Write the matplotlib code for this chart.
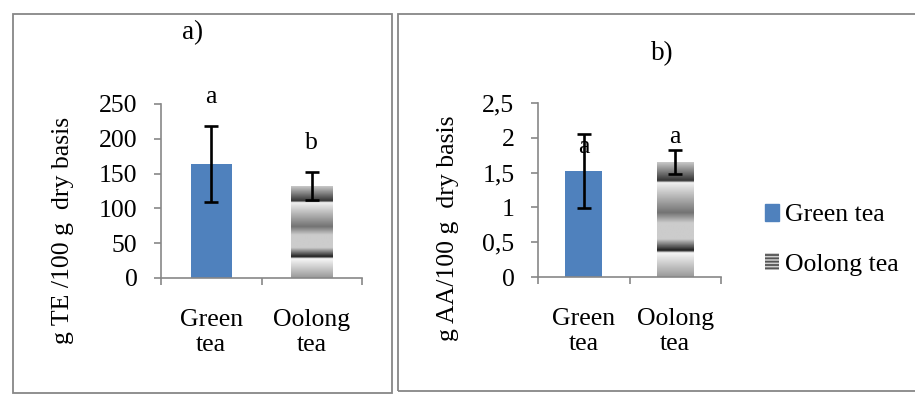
import matplotlib
matplotlib.use("Agg")
import matplotlib.pyplot as plt
import numpy as np
from matplotlib.colors import LinearSegmentedColormap
from matplotlib.patches import Rectangle, Patch

plt.rcParams['font.family'] = ['Liberation Serif', 'DejaVu Serif']
plt.rcParams['hatch.linewidth'] = 1.3

# data
categories = ["Green\ntea", "Oolong\ntea"]
te_values = [164, 132]
te_errors = [55, 20]
te_letters = ["a", "b"]
te_letter_y = [251, 185]

aa_values = [1.525, 1.65]
aa_errors = [0.53, 0.175]
aa_letters = ["a", "a"]
aa_letter_y = [1.78, 1.925]

te_ticks = [0, 50, 100, 150, 200, 250]
aa_ticks = [0, 0.5, 1, 1.5, 2, 2.5]
aa_ticklabels = ["0", "0,5", "1", "1,5", "2", "2,5"]

legend_labels = ["Green tea", "Oolong tea"]

# grey gradient of the oolong bar, from top (0) to bottom (1)
grad_stops = [(0.0, 0.78), (0.16, 0.2), (0.175, 0.95), (0.2, 0.9), (0.44, 0.45),
              (0.53, 0.8), (0.67, 0.8), (0.77, 0.12), (0.79, 0.97), (1.0, 0.6)]
gcmap = LinearSegmentedColormap.from_list(
    "oolong", [(p, (g, g, g)) for p, g in grad_stops])

BLUE = "#4F81BD"
GREY = "#878787"
FS = 18.5

fig = plt.figure(figsize=(9.15, 3.95), dpi=100)

# panel borders
fig.patches.append(Rectangle((13 / 915, 1 - 393 / 395), 379 / 915, 379 / 395,
                             transform=fig.transFigure, fill=False,
                             edgecolor=GREY, linewidth=1.3))
fig.patches.append(Rectangle((398 / 915, 1 - 391 / 395), 530 / 915, 377 / 395,
                             transform=fig.transFigure, fill=False,
                             edgecolor=GREY, linewidth=1.3, clip_on=False))


def draw_panel(ax, values, errors, width, ymax):
    x = np.arange(len(values))
    ax.bar(x[0], values[0], width, color=BLUE, zorder=2)
    # gradient bar
    grad = np.linspace(0, 1, 400).reshape(-1, 1)
    ax.imshow(grad, cmap=gcmap, vmin=0, vmax=1, aspect='auto',
              extent=(x[1] - width / 2, x[1] + width / 2, 0, values[1]),
              zorder=2, interpolation='bilinear')
    ax.errorbar(x, values, yerr=errors, fmt='none', ecolor='black',
                elinewidth=1.9, capsize=4.8, capthick=1.9, zorder=3)
    ax.set_xlim(-0.5, 1.5)
    ax.set_ylim(0, ymax)
    for s in ['top', 'right']:
        ax.spines[s].set_visible(False)
    for s in ['left', 'bottom']:
        ax.spines[s].set_color(GREY)
        ax.spines[s].set_linewidth(1.2)
    ax.set_xticks(x)
    ax.set_xticklabels(categories, fontsize=FS, linespacing=1.2)
    ax.set_xticks([-0.5, 0.5, 1.5], minor=True)
    ax.tick_params(axis='x', which='major', length=0, pad=22)
    ax.tick_params(axis='x', which='minor', length=5, width=1.2, color=GREY)
    ax.tick_params(axis='y', length=5, width=1.2, color=GREY, pad=12,
                   labelsize=FS)


ax1 = fig.add_axes([161 / 915, 1 - 278 / 395, 201 / 915, 174 / 395])
draw_panel(ax1, te_values, te_errors, 0.41, 250)
ax1.set_yticks(te_ticks)
for i, (lab, yy) in enumerate(zip(te_letters, te_letter_y)):
    ax1.text(i, yy, lab, ha='center', va='baseline', fontsize=FS, clip_on=False)

ax2 = fig.add_axes([538 / 915, 1 - 277 / 395, 183 / 915, 174 / 395])
draw_panel(ax2, aa_values, aa_errors, 0.4, 2.5)
ax2.set_yticks(aa_ticks)
ax2.set_yticklabels(aa_ticklabels)
for i, (lab, yy) in enumerate(zip(aa_letters, aa_letter_y)):
    ax2.text(i, yy, lab, ha='center', va='baseline', fontsize=FS, clip_on=False)

# titles and axis labels
fig.text(193 / 915, 1 - 33 / 395, "a)", ha='center', va='center', fontsize=19.5)
fig.text(662 / 915, 1 - 54 / 395, "b)", ha='center', va='center', fontsize=19.5)
fig.text(63 / 915, 1 - 230 / 395, "g TE /100 g  dry basis", rotation=90,
         ha='center', va='center', fontsize=FS)
fig.text(448 / 915, 1 - 228 / 395, "g AA/100 g  dry basis", rotation=90,
         ha='center', va='center', fontsize=FS)

handles = [Patch(facecolor=BLUE, edgecolor=BLUE),
           Patch(facecolor='#d0d0d0', edgecolor='#555555', hatch='-----',
                 linewidth=0)]
fig.legend(handles, legend_labels, loc='upper left',
           bbox_to_anchor=(755 / 915, 1 - 194 / 395), frameon=False,
           fontsize=FS, handlelength=0.55, handleheight=0.6,
           handletextpad=0.2, labelspacing=1.05, borderaxespad=0)

fig.savefig("out.png", dpi=100)
